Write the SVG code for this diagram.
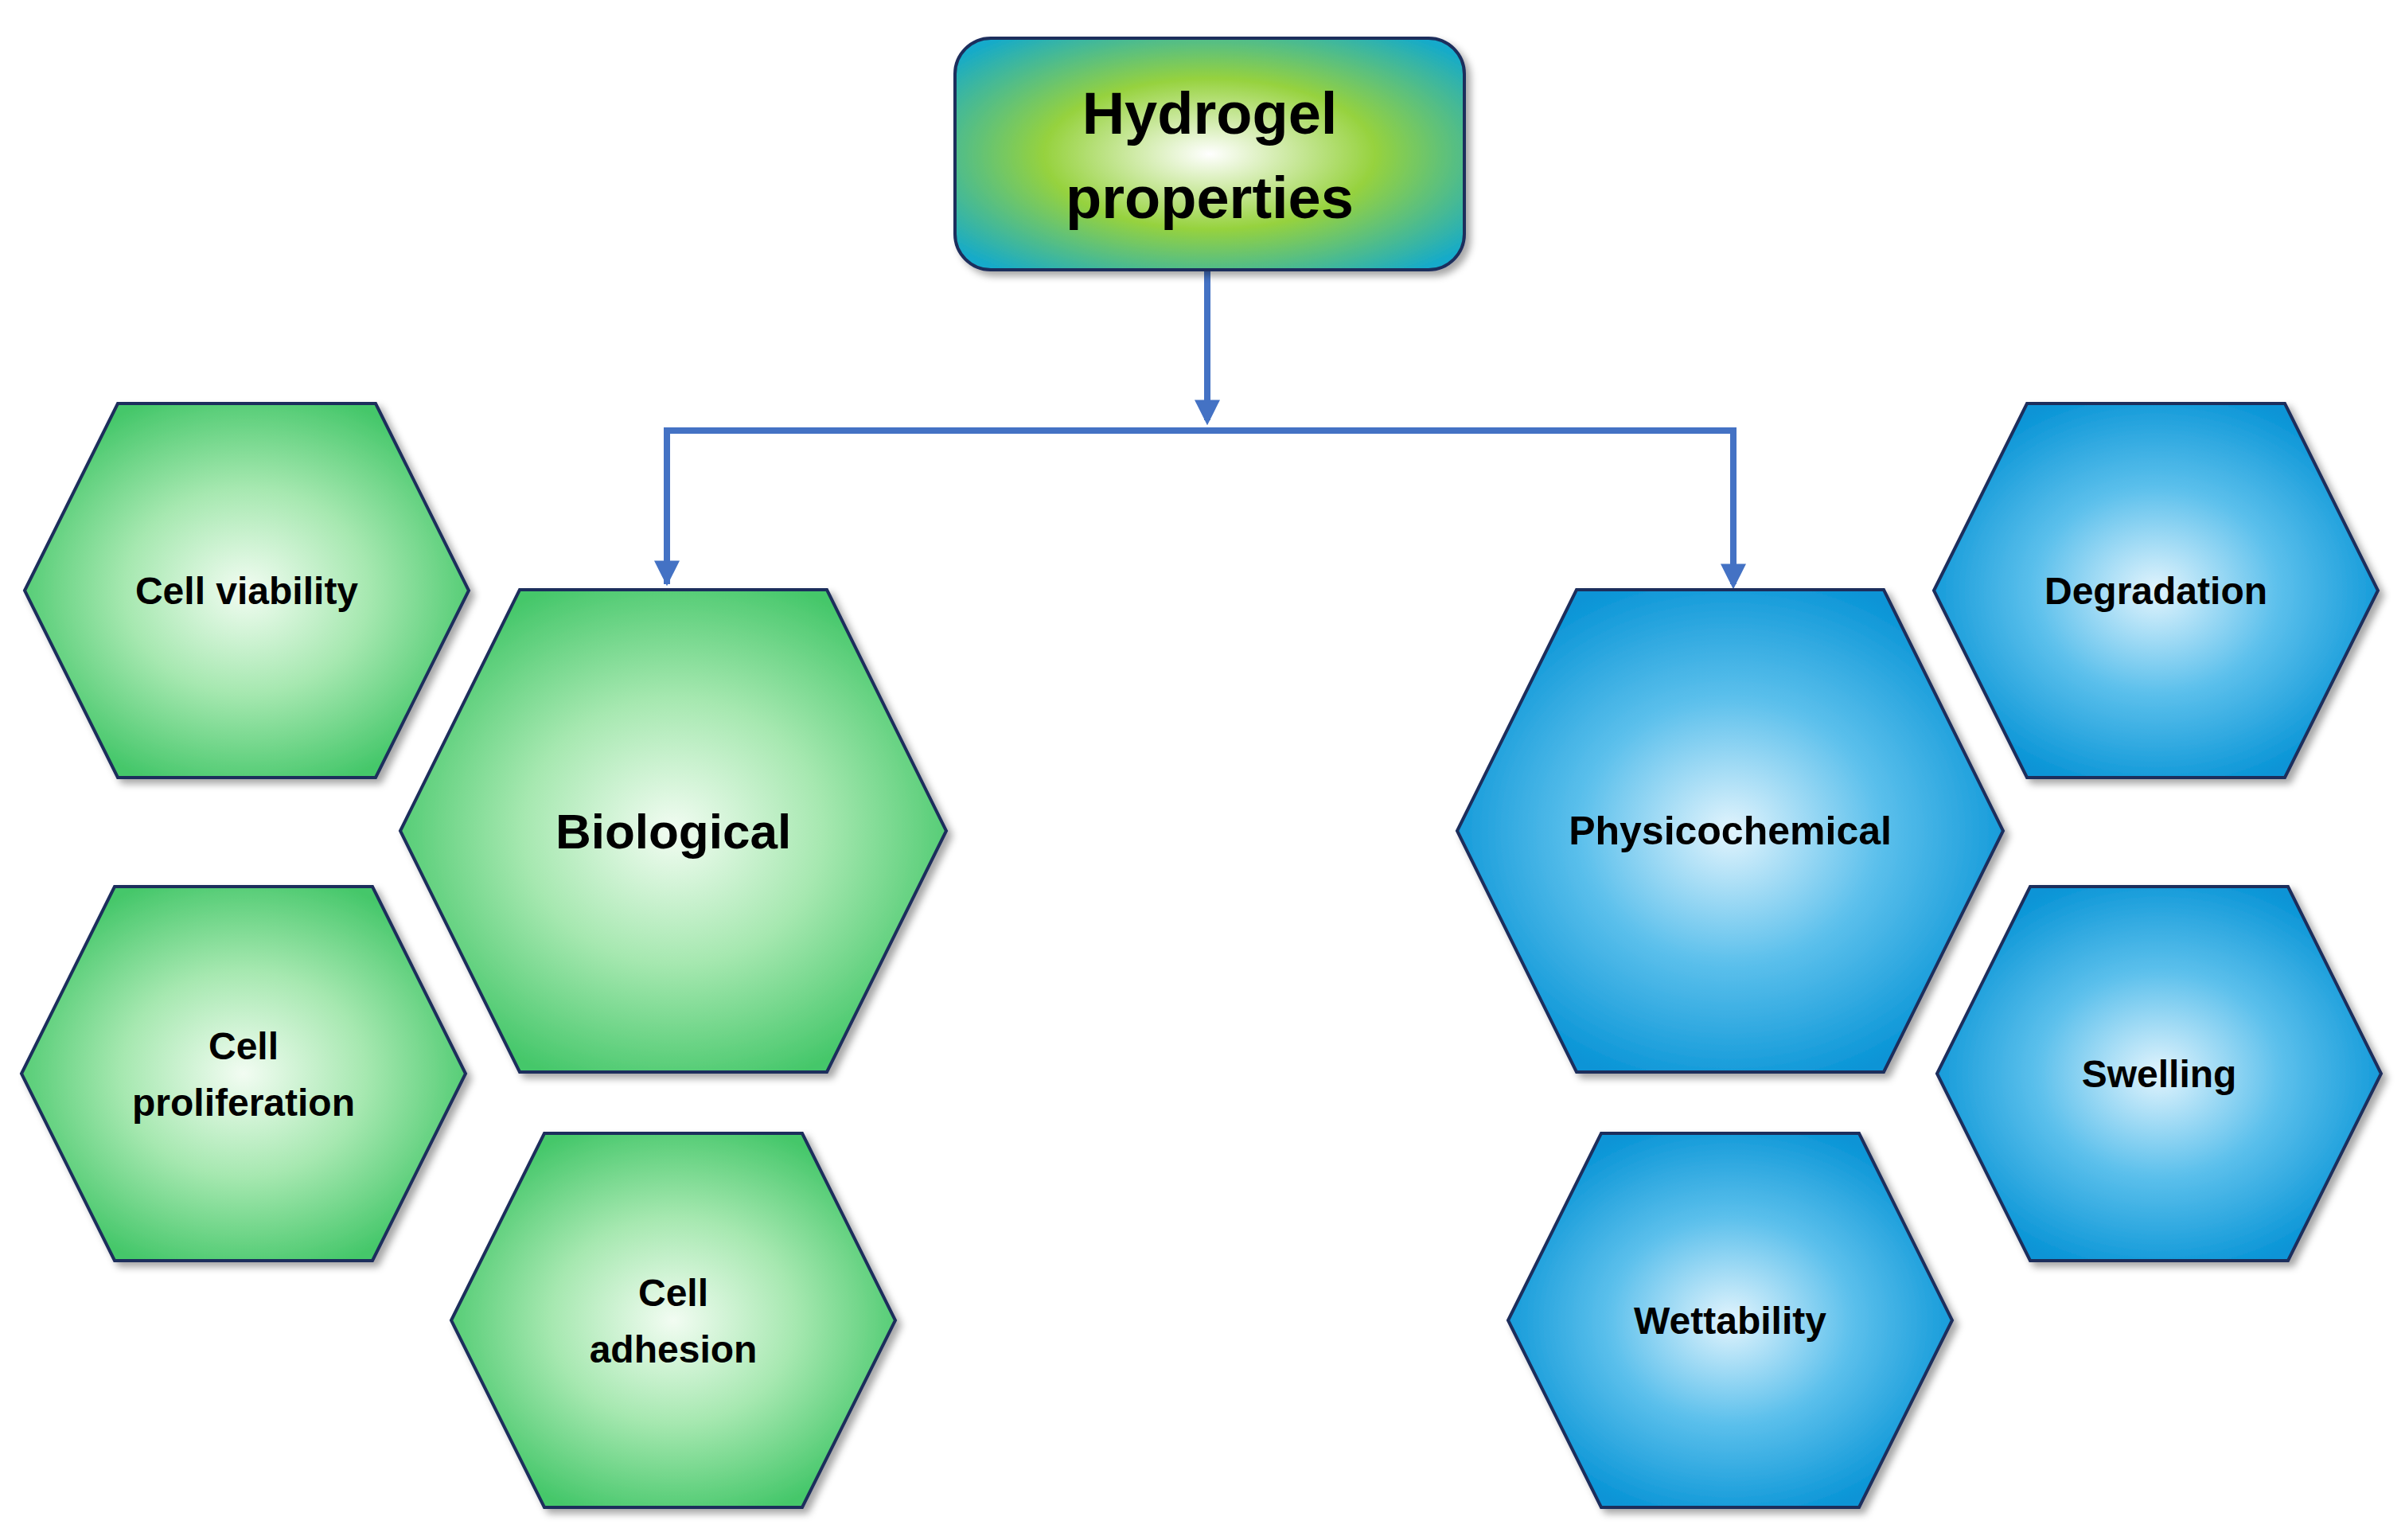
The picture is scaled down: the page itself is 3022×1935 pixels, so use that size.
<svg xmlns="http://www.w3.org/2000/svg" width="3022" height="1935" viewBox="0 0 3022 1935">
<defs>
<radialGradient id="gG" cx="0.5" cy="0.5" r="0.55"><stop offset="0" stop-color="#f2fcf2"/><stop offset="0.5" stop-color="#a6e8b0"/><stop offset="1" stop-color="#45c76a"/></radialGradient>
<radialGradient id="gB" cx="0.5" cy="0.5" r="0.55"><stop offset="0" stop-color="#e2f4fd"/><stop offset="0.5" stop-color="#5cc0ec"/><stop offset="1" stop-color="#0894d6"/></radialGradient>
<radialGradient id="gT" cx="0.5" cy="0.5" r="0.65"><stop offset="0" stop-color="#ffffff"/><stop offset="0.5" stop-color="#96d23e"/><stop offset="1" stop-color="#14aacb"/></radialGradient>
<filter id="sh" x="-10%" y="-10%" width="125%" height="125%"><feDropShadow dx="6" dy="6" stdDeviation="5" flood-color="#000" flood-opacity="0.35"/></filter>
<marker id="ar" viewBox="0 0 10 10" refX="8" refY="5" markerWidth="4" markerHeight="4" orient="auto"><path d="M0,0L10,5L0,10z" fill="#4472c4"/></marker>
</defs>
<style>
.s{stroke:#1f2d5c;stroke-width:4;filter:url(#sh)}
.t{font-family:"Liberation Sans",Arial,sans-serif;font-weight:bold;fill:#000;text-anchor:middle}
.c{fill:none;stroke:#4472c4;stroke-width:8}
</style>
<g id="connectors">
<path class="c" d="M1517,339V528" marker-end="url(#ar)"/>
<path class="c" d="M838,734V541H2178V734" marker-end="url(#ar)"/>
<path class="c" d="M838,541V730" marker-end="url(#ar)"/>
</g>
<g id="top"><rect class="s" x="1200" y="48" width="640" height="291" rx="45" fill="url(#gT)"/>
<text class="t" font-size="74" x="1520" y="168">Hydrogel</text><text class="t" font-size="74" x="1520" y="274">properties</text></g>
<g id="biological" transform="translate(846,1044)"><polygon class="s" fill="url(#gG)" points="-343,0 -193,-303 193,-303 343,0 193,303 -193,303"/><text class="t" font-size="62" y="22">Biological</text></g>
<g id="physicochemical" transform="translate(2174,1044)"><polygon class="s" fill="url(#gB)" points="-343,0 -193,-303 193,-303 343,0 193,303 -193,303"/><text class="t" font-size="50" y="17">Physicochemical</text></g>
<g id="viability" transform="translate(310,742)"><polygon class="s" fill="url(#gG)" points="-279,0 -162,-235 162,-235 279,0 162,235 -162,235"/><text class="t" font-size="48" y="17">Cell viability</text></g>
<g id="proliferation" transform="translate(306,1349)"><polygon class="s" fill="url(#gG)" points="-279,0 -162,-235 162,-235 279,0 162,235 -162,235"/><text class="t" font-size="48" y="-18">Cell</text><text class="t" font-size="48" y="53">proliferation</text></g>
<g id="adhesion" transform="translate(846,1659)"><polygon class="s" fill="url(#gG)" points="-279,0 -162,-235 162,-235 279,0 162,235 -162,235"/><text class="t" font-size="48" y="-18">Cell</text><text class="t" font-size="48" y="53">adhesion</text></g>
<g id="degradation" transform="translate(2709,742)"><polygon class="s" fill="url(#gB)" points="-279,0 -162,-235 162,-235 279,0 162,235 -162,235"/><text class="t" font-size="48" y="17">Degradation</text></g>
<g id="swelling" transform="translate(2713,1349)"><polygon class="s" fill="url(#gB)" points="-279,0 -162,-235 162,-235 279,0 162,235 -162,235"/><text class="t" font-size="48" y="17">Swelling</text></g>
<g id="wettability" transform="translate(2174,1659)"><polygon class="s" fill="url(#gB)" points="-279,0 -162,-235 162,-235 279,0 162,235 -162,235"/><text class="t" font-size="48" y="17">Wettability</text></g>
</svg>
